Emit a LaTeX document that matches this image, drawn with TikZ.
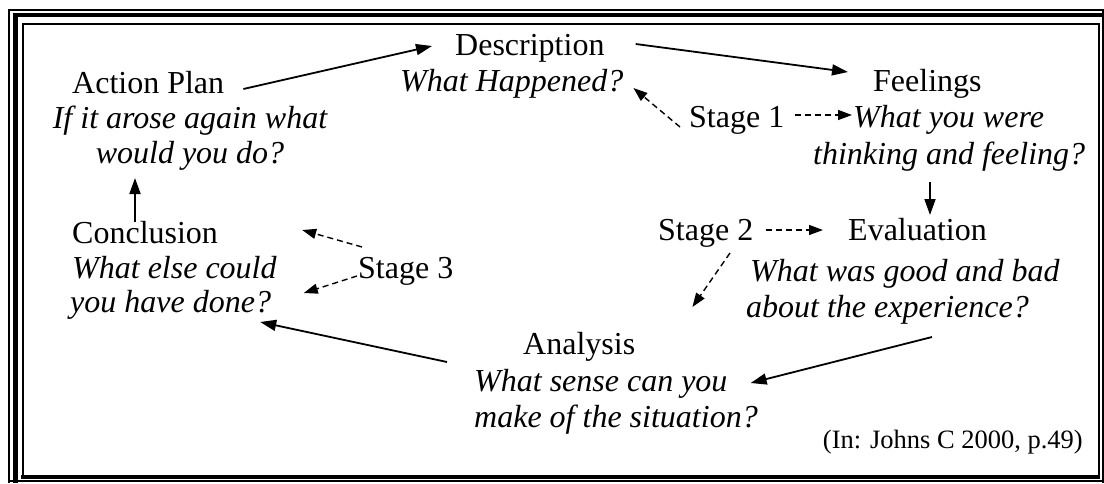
\documentclass[tikz,border=0pt]{standalone}
\usepackage{fontspec}
\setmainfont{Liberation Serif}
\usetikzlibrary{arrows.meta,calc}
\begin{document}
\begin{tikzpicture}[x=1pt,y=-1pt,
  title/.style={font=\fontsize{32}{37}\selectfont, anchor=base west, inner sep=0pt},
  quest/.style={font=\fontsize{32}{37}\selectfont\itshape, anchor=base west, inner sep=0pt},
  questc/.style={quest, anchor=base},
  flow/.style={line width=1.8pt, -{Triangle[length=16pt,width=11pt]}},
  hint/.style={line width=1.4pt, dash pattern=on 6pt off 4pt, -{Triangle[length=14pt,width=10pt]}},
]
\useasboundingbox (0,0) rectangle (1104,483);
\fill[white] (0,0) rectangle (1104,483);

% double frame
\draw[line width=1.2pt] (9,483) -- (9,10) -- (1104,10);
\draw[line width=4.5pt] (15.5,483) -- (15.5,15) -- (1104,15);
\draw[line width=1.2pt] (9,481) -- (1104,481);
\draw[line width=1.2pt] (1103,10) -- (1103,483);
\draw[line width=2pt] (23,477) -- (23,24) -- (1099,24) -- (1099,477);
\draw[line width=4pt] (21,477) -- (1100,477);

% stages of the cycle
\node[title] (de) at (455,55) {Description};
\node[quest] (deq) at (400,91) {What Happened?};

\node[title] (fe) at (873,91) {Feelings};
\node[quest] (feq1) at (853,127) {What you were};
\node[quest] (feq2) at (813,164) {thinking and feeling?};

\node[title] (ev) at (848,240) {Evaluation};
\node[quest] (evq1) at (750,281) {What was good and bad};
\node[quest] (evq2) at (746,317) {about the experience?};

\node[title] (an) at (523,354) {Analysis};
\node[quest] (anq1) at (474,391) {What sense can you};
\node[quest] (anq2) at (474,427) {make of the situation?};

\node[title] (co) at (72,243) {Conclusion};
\node[quest] (coq1) at (72,278) {What else could};
\node[quest] (coq2) at (70,312) {you have done?};

\node[title] (ap) at (72,93) {Action Plan};
\node[questc] (apq1) at (190,128) {If it arose again what};
\node[questc] (apq2) at (190,163) {would you do?};

% stage labels
\node[title] (s1) at (689,127) {Stage 1};
\node[title] (s2) at (658,240) {Stage 2};
\node[title] (s3) at (358,278) {Stage 3};

\node[font=\fontsize{26.5}{30}\selectfont, anchor=base east, inner sep=0pt] (cite) at (1083,448) {(In: Johns C 2000, p.49)};

% cycle arrows
\draw[flow] ($(ap.base east)+(19,-4)$) -- ($(de.base west)+(-23,-9)$);
\draw[flow] ($(de.base east)+(31,-11)$) -- ($(fe.base west)+(-25,-19)$);
\draw[flow] ($(feq2.base west)+(117,18)$) -- ($(ev.base west)+(82,-25)$);
\draw[flow] ($(evq2.base west)+(186,20)$) -- ($(anq1.base east)+(23,-8)$);
\draw[flow] ($(an.base west)+(-76,8)$) -- ($(coq2.base east)+(-11,10)$);
\draw[flow] ($(co.base west)+(63,-21)$) -- ($(apq2.base)+(-55,15)$);

% stage pointers
\draw[hint] ($(s1.base west)+(-9,0)$) -- ($(deq.base east)+(10,-3)$);
\draw[hint] ($(s1.base east)+(10,-12)$) -- ($(feq1.base west)+(-1,-12)$);
\draw[hint] ($(s2.base east)+(12,-10)$) -- ($(ev.base west)+(-25,-10)$);
\draw[hint] ($(s2.base west)+(72,13)$) -- ($(an.base east)+(57,-47)$);
\draw[hint] ($(s3.base west)+(4,-31)$) -- ($(co.base east)+(84,-13)$);
\draw[hint] ($(s3.base west)+(-1,-2)$) -- ($(coq1.base east)+(27,15)$);
\end{tikzpicture}
\end{document}
